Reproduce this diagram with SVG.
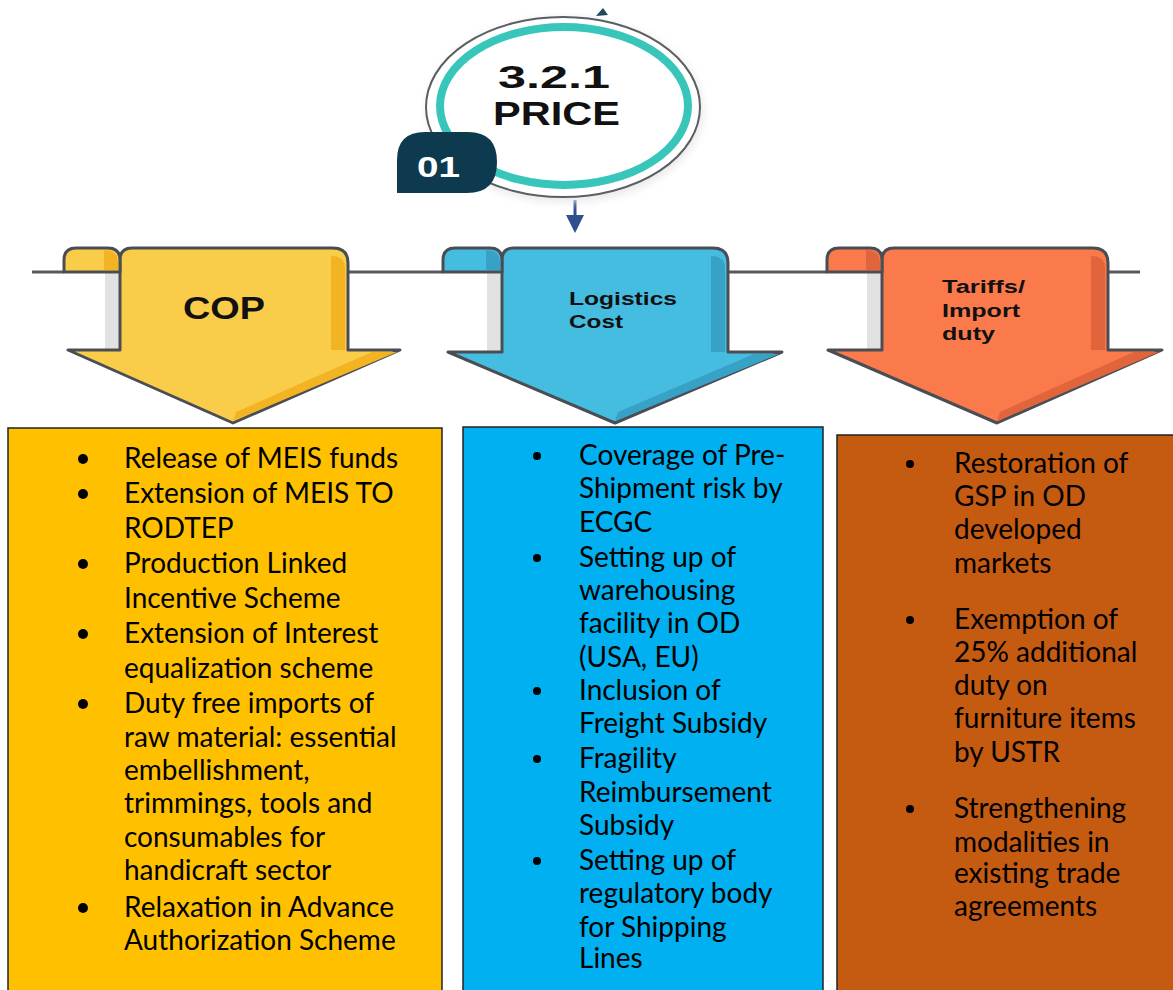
<svg xmlns="http://www.w3.org/2000/svg" width="1173" height="990" viewBox="0 0 1173 990">
<style>
.ol{stroke:#4a4e54;stroke-width:3;stroke-linejoin:round}
.hl{stroke:#55595e;stroke-width:3;fill:none}
.lbl{font-family:"Liberation Sans",Arial,sans-serif;font-weight:bold;fill:#111}
.bt{font-family:Lato,"Open Sans",sans-serif;font-size:28px;fill:#000}
.box{stroke:#222;stroke-width:1.5}
</style>
<defs>
<marker id="ah" markerWidth="6" markerHeight="6" refX="5" refY="3" orient="auto" markerUnits="strokeWidth">
<path d="M0,0 L6,3 L0,6 Z" fill="#2f4f8f"/>
</marker>
<filter id="sh" x="-20%" y="-20%" width="140%" height="140%"><feGaussianBlur stdDeviation="4"/></filter>
</defs>

<g id="connectors">
<line class="hl" x1="32" y1="272" x2="64" y2="272"/>
<line class="hl" x1="348" y1="272" x2="443" y2="272"/>
<line class="hl" x1="728" y1="272" x2="827" y2="272"/>
<line class="hl" x1="1108" y1="272" x2="1140" y2="272"/>
<line x1="575" y1="200" x2="575" y2="230" stroke="#2f4f8f" stroke-width="3" marker-end="url(#ah)"/>
</g>

<g id="price">
<ellipse cx="565" cy="110" rx="138" ry="92" fill="#e8e8e8" filter="url(#sh)"/>
<ellipse cx="563" cy="107" rx="137" ry="90" fill="#fff" stroke="#5a5f63" stroke-width="2"/>
<ellipse cx="564" cy="106" rx="124" ry="79" fill="#fff" stroke="#38c6ba" stroke-width="8"/>
<path d="M596,16 L603,8 L608,15 Z" fill="#1e4a5a"/>
<text x="498" y="88" font-family="Liberation Sans,Arial,sans-serif" font-size="32" fill="#111" textLength="112" lengthAdjust="spacingAndGlyphs" style="font-weight:600">3.2.1</text>
<text x="493" y="125" font-family="Liberation Sans,Arial,sans-serif" font-size="34" fill="#111" textLength="127" lengthAdjust="spacingAndGlyphs" style="font-weight:600">PRICE</text>
<path d="M397,193 L397,160 Q397,132 425,132 L468,132 Q497,132 497,162 Q497,193 467,193 Z" fill="#0e3a4f"/>
<text x="417" y="177" font-family="Liberation Sans,Arial,sans-serif" font-weight="bold" font-size="30" fill="#fff" textLength="43" lengthAdjust="spacingAndGlyphs">01</text>
</g>

<g id="cop">
<rect x="105" y="272" width="15" height="78" fill="#e2e2e2"/>
<path class="ol" d="M120,350 L120,260 Q120,248 132,248 L333,248 Q348,248 348,263 L348,350 L400,350 L233,423 L68,350 Z" fill="#f9cd4a"/>
<path d="M331,256 Q345,256 345,268 L345,350 L331,350 Z" fill="#f3b423"/>
<path d="M397,352 L233,421 L236,412 L372,352 Z" fill="#f3b423"/>
<path class="ol" d="M64,272 L64,260 Q64,248 76,248 L108,248 Q120,248 120,260 L120,272 Z" fill="#f9cd4a"/>
<path d="M104,250 Q118,250 118,262 L118,270 L104,270 Z" fill="#f3b423"/>
<text class="lbl" x="183" y="319" font-size="32" textLength="82" lengthAdjust="spacingAndGlyphs">COP</text>
</g>

<g id="logistics">
<rect x="487" y="272" width="15" height="80" fill="#e2e2e2"/>
<path class="ol" d="M502,352 L502,260 Q502,248 514,248 L713,248 Q728,248 728,263 L728,352 L782,352 L615,423 L448,352 Z" fill="#45bde0"/>
<path d="M711,256 Q725,256 725,268 L725,352 L711,352 Z" fill="#38a2c6"/>
<path d="M779,354 L615,421 L618,412 L754,354 Z" fill="#38a2c6"/>
<path class="ol" d="M443,272 L443,260 Q443,248 455,248 L490,248 Q502,248 502,260 L502,272 Z" fill="#45bde0"/>
<path d="M486,250 Q500,250 500,262 L500,270 L486,270 Z" fill="#38a2c6"/>
<text class="lbl" x="569" y="305" font-size="18" textLength="108" lengthAdjust="spacingAndGlyphs">Logistics</text>
<text class="lbl" x="569" y="328" font-size="18" textLength="54" lengthAdjust="spacingAndGlyphs">Cost</text>
</g>

<g id="tariffs">
<rect x="867" y="272" width="15" height="78" fill="#e2e2e2"/>
<path class="ol" d="M882,350 L882,260 Q882,248 894,248 L1093,248 Q1108,248 1108,263 L1108,350 L1162,350 L997,423 L828,350 Z" fill="#fb7a4b"/>
<path d="M1091,256 Q1105,256 1105,268 L1105,350 L1091,350 Z" fill="#e0653c"/>
<path d="M1159,352 L997,421 L1000,412 L1134,352 Z" fill="#e0653c"/>
<path class="ol" d="M827,272 L827,260 Q827,248 839,248 L870,248 Q882,248 882,260 L882,272 Z" fill="#fb7a4b"/>
<path d="M866,250 Q880,250 880,262 L880,270 L866,270 Z" fill="#e0653c"/>
<text class="lbl" x="942" y="293" font-size="18" textLength="83" lengthAdjust="spacingAndGlyphs">Tariffs/</text>
<text class="lbl" x="942" y="317" font-size="18" textLength="78" lengthAdjust="spacingAndGlyphs">Import</text>
<text class="lbl" x="942" y="340" font-size="18" textLength="53" lengthAdjust="spacingAndGlyphs">duty</text>
</g>

<g id="cop-box">
<rect class="box" x="8" y="428" width="434" height="580" fill="#ffc000"/>
<g fill="#000">
<circle cx="83" cy="459" r="5"/><circle cx="83" cy="494" r="5"/><circle cx="83" cy="564" r="5"/><circle cx="83" cy="634" r="5"/><circle cx="83" cy="704" r="5"/><circle cx="83" cy="908" r="5"/>
</g>
<text class="bt" x="124" y="468">Release of MEIS funds</text>
<text class="bt" x="124" y="503">Extension of MEIS TO</text>
<text class="bt" x="124" y="538">RODTEP</text>
<text class="bt" x="124" y="573">Production Linked</text>
<text class="bt" x="124" y="608">Incentive Scheme</text>
<text class="bt" x="124" y="643">Extension of Interest</text>
<text class="bt" x="124" y="678">equalization scheme</text>
<text class="bt" x="124" y="713">Duty free imports of</text>
<text class="bt" x="124" y="747">raw material: essential</text>
<text class="bt" x="124" y="780">embellishment,</text>
<text class="bt" x="124" y="813">trimmings, tools and</text>
<text class="bt" x="124" y="847">consumables for</text>
<text class="bt" x="124" y="880">handicraft sector</text>
<text class="bt" x="124" y="917">Relaxation in Advance</text>
<text class="bt" x="124" y="950">Authorization Scheme</text>
</g>

<g id="logistics-box">
<rect class="box" x="463" y="427" width="360" height="580" fill="#00b0f0"/>
<g fill="#000">
<circle cx="537" cy="456" r="4"/><circle cx="537" cy="558" r="4"/><circle cx="537" cy="691" r="4"/><circle cx="537" cy="759" r="4"/><circle cx="537" cy="861" r="4"/>
</g>
<text class="bt" x="579" y="465">Coverage of Pre-</text>
<text class="bt" x="579" y="498">Shipment risk by</text>
<text class="bt" x="579" y="532">ECGC</text>
<text class="bt" x="579" y="567">Setting up of</text>
<text class="bt" x="579" y="600">warehousing</text>
<text class="bt" x="579" y="633">facility in OD</text>
<text class="bt" x="579" y="667">(USA, EU)</text>
<text class="bt" x="579" y="700">Inclusion of</text>
<text class="bt" x="579" y="733">Freight Subsidy</text>
<text class="bt" x="579" y="768">Fragility</text>
<text class="bt" x="579" y="802">Reimbursement</text>
<text class="bt" x="579" y="835">Subsidy</text>
<text class="bt" x="579" y="870">Setting up of</text>
<text class="bt" x="579" y="903">regulatory body</text>
<text class="bt" x="579" y="937">for Shipping</text>
<text class="bt" x="579" y="968">Lines</text>
</g>

<g id="tariffs-box">
<rect class="box" x="837" y="435" width="345" height="580" fill="#c55a11"/>
<g fill="#000">
<circle cx="910" cy="464" r="4"/><circle cx="910" cy="620" r="4"/><circle cx="910" cy="809" r="4"/>
</g>
<text class="bt" x="954" y="473">Restoration of</text>
<text class="bt" x="954" y="506">GSP in OD</text>
<text class="bt" x="954" y="539">developed</text>
<text class="bt" x="954" y="573">markets</text>
<text class="bt" x="954" y="629">Exemption of</text>
<text class="bt" x="954" y="662">25% additional</text>
<text class="bt" x="954" y="695">duty on</text>
<text class="bt" x="954" y="728">furniture items</text>
<text class="bt" x="954" y="762">by USTR</text>
<text class="bt" x="954" y="818">Strengthening</text>
<text class="bt" x="954" y="852">modalities in</text>
<text class="bt" x="954" y="883">existing trade</text>
<text class="bt" x="954" y="916">agreements</text>
</g>
</svg>
